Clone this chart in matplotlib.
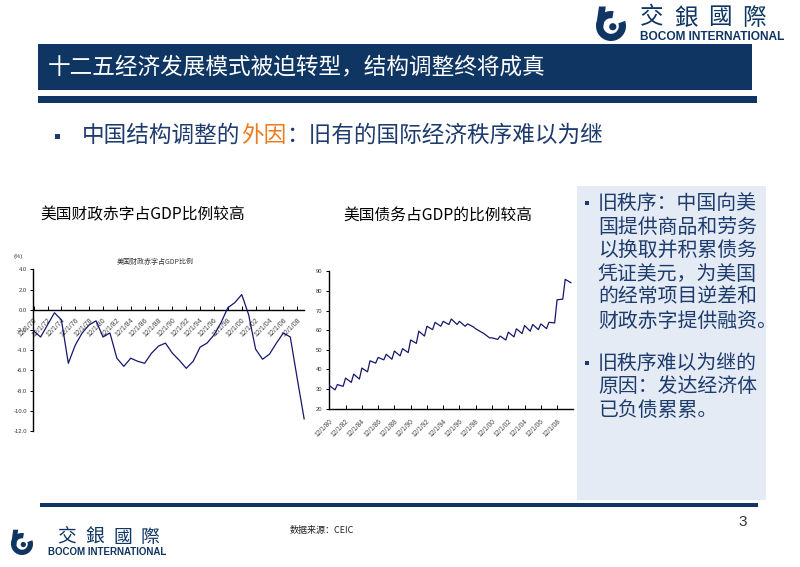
import matplotlib
matplotlib.use("Agg")
import matplotlib.pyplot as plt
from matplotlib import patches, transforms as mtransforms
import numpy as np

plt.rcParams['font.family'] = ['Noto Sans CJK SC', 'DejaVu Sans']

# ---------------- data ----------------
deficit_years = list(range(1970, 2010))
deficit_pct = [-2.1, -2.7, -1.5, -0.3, -1.0, -5.3, -3.5, -2.3, -1.5, -1.1,
               -2.7, -2.3, -4.8, -5.6, -4.8, -5.1, -5.3, -4.3, -3.6, -3.3,
               -4.3, -5.0, -5.8, -5.1, -3.7, -3.3, -2.5, -1.3, 0.2, 0.7,
               1.5, -0.5, -3.9, -4.9, -4.4, -3.3, -2.3, -2.7, -6.8, -10.8]
deficit_tick_years = list(range(1970, 2009, 2))
deficit_tick_labels = ["12/1/%02d" % (y % 100) for y in deficit_tick_years]
deficit_yticks = [4.0, 2.0, 0.0, -2.0, -4.0, -6.0, -8.0, -10.0, -12.0]

debt_years = list(range(1980, 2010))
debt_peak = [31.8, 32.3, 35.6, 37.6, 40.7, 44.4, 46.1, 47.7, 49.4, 50.6,
             55.0, 59.5, 62.0, 64.0, 64.5, 65.7, 64.5, 63.2, 60.7, 58.3,
             56.1, 57.0, 59.0, 60.7, 62.4, 62.9, 63.2, 64.0, 75.5, 85.9]
debt_trough = [29.6, 31.4, 33.4, 35.1, 38.8, 43.2, 44.9, 45.2, 46.9, 48.6,
               53.3, 57.0, 60.3, 62.0, 62.9, 62.9, 62.0, 61.7, 59.0, 56.1,
               55.3, 55.0, 56.6, 58.3, 59.5, 60.3, 60.8, 63.7, 75.8, 84.2]
debt_tick_years = list(range(1980, 2009, 2))
debt_tick_labels = ["12/1/%02d" % (y % 100) for y in debt_tick_years]
debt_yticks = [20, 30, 40, 50, 60, 70, 80, 90]

title_text = "十二五经济发展模式被迫转型，结构调整终将成真"
bullet_a = "中国结构调整的"
bullet_b = "外因"
bullet_c = "：旧有的国际经济秩序难以为继"
chart1_title = "美国财政赤字占GDP比例较高"
chart2_title = "美国债务占GDP的比例较高"
chart1_inner = "美国财政赤字占GDP比例"
box_lines_1 = ["旧秩序：中国向美", "国提供商品和劳务", "以换取并积累债务",
               "凭证美元，为美国", "的经常项目逆差和", "财政赤字提供融资。"]
box_lines_2 = ["旧秩序难以为继的", "原因：发达经济体", "已负债累累。"]
source_text = "数据来源：CEIC"
page_no = "3"

# ---------------- figure ----------------
W, H = 800, 567
fig = plt.figure(figsize=(8, 5.67), dpi=100)
px = mtransforms.Affine2D().scale(1 / W, -1 / H).translate(0, 1) + fig.transFigure

NAVY = "#0f3563"
TEXT_NAVY = "#1d3b6c"
LINE_C = "#16166e"


def T(x, y, s, **kw):
    kw.setdefault("va", "center")
    return fig.text(x / W, 1 - y / H, s, **kw)


def rect(x, y, w, h, color, z=0):
    fig.patches.append(patches.Rectangle((x, y), w, h, transform=px, color=color,
                                         zorder=z, linewidth=0))


def logo(cx, cy, r, x0, text_y, pitch, cfs, sub_y, sub_fs, sub_x):
    fig.patches.append(patches.Wedge((cx, cy), r, -20, 280, width=r * 0.48,
                                     transform=px, color=NAVY, linewidth=0))
    fig.patches.append(patches.Polygon([(cx - r, cy + 1), (cx - r * 0.52, cy + 1),
                                        (cx - r * 0.35, cy - r * 1.3),
                                        (cx - r * 0.8, cy - r * 1.3)],
                                       closed=True, transform=px, color=NAVY,
                                       linewidth=0))
    fig.patches.append(patches.Circle((cx + r * 0.12, cy + r * 0.05), r * 0.24,
                                      transform=px, color=NAVY, linewidth=0))
    for i, ch in enumerate("交銀國際"):
        T(x0 + i * pitch, text_y, ch, fontsize=cfs, color=NAVY, ha="left",
          family=["Noto Sans CJK TC", "DejaVu Sans"])
    T(sub_x, sub_y, "BOCOM INTERNATIONAL", fontsize=sub_fs, color=NAVY,
      fontweight="bold", ha="left", family=["Liberation Sans", "DejaVu Sans"])


# header logo
logo(611, 26, 15, 640, 18, 34, 17, 37, 8.6, 640)

# title bar
rect(38, 44, 714, 46, NAVY)
T(48, 67, title_text, fontsize=16.3, color="white", ha="left")
rect(38, 96, 719, 7, NAVY)

# bullet line
rect(55, 134, 5, 5, TEXT_NAVY)
T(82, 135, bullet_a, fontsize=16.3, color=TEXT_NAVY, ha="left")
T(82 + 7 * 22.7, 135, bullet_b, fontsize=16.3, color="#ee7a1e", ha="left")
T(82 + 9 * 22.7, 135, bullet_c, fontsize=16.3, color=TEXT_NAVY, ha="left")

# chart titles
T(40, 215, chart1_title, fontsize=11.3, color="black", ha="left")
T(343, 215, chart2_title, fontsize=11.3, color="black", ha="left")

# right text box
rect(577, 186, 189, 314, "#e4ebf4")
ys1 = [203, 227, 250, 274, 297, 321]
for y, s in zip(ys1, box_lines_1):
    T(598, y, s, fontsize=14.3, color=TEXT_NAVY, ha="left")
ys2 = [363, 387, 410]
for y, s in zip(ys2, box_lines_2):
    T(598, y, s, fontsize=14.3, color=TEXT_NAVY, ha="left")
rect(585, 201, 4, 4, TEXT_NAVY)
rect(585, 361, 4, 4, TEXT_NAVY)

# footer
rect(40, 503, 718, 3.5, NAVY)
logo(22, 544, 11, 57, 537, 28, 13.5, 552, 7.0, 48)
T(290, 531, source_text, fontsize=6.5, color="#222222", ha="left", style="italic")
T(738, 522, page_no, fontsize=11, color="#333333", ha="left",
  family=["Liberation Sans", "DejaVu Sans"])

# ---------------- chart 1: deficit ----------------
TICK_FONT = ["Liberation Sans", "DejaVu Sans"]
ax1 = fig.add_axes([33.3 / W, 1 - 431 / H, (304.5 - 33.3) / W, (431 - 269.3) / H])
ax1.patch.set_alpha(0)
ax1.plot(deficit_years, deficit_pct, color=LINE_C, lw=0.9, zorder=3)
ax1.set_xlim(1969.95, 2009.05)
ax1.set_ylim(-12, 4)
for s in ("top", "right"):
    ax1.spines[s].set_visible(False)
ax1.spines["bottom"].set_position(("data", 0))
ax1.spines["bottom"].set_linewidth(1.0)
ax1.spines["left"].set_linewidth(1.0)
ax1.set_yticks(deficit_yticks)
ax1.set_yticklabels(["%.1f" % v for v in deficit_yticks], family=TICK_FONT,
                    fontsize=4.2, color="#333333")
ax1.set_xticks(deficit_tick_years)
ax1.set_xticklabels(deficit_tick_labels, rotation=45, ha="right", va="top",
                    rotation_mode="anchor", family=TICK_FONT, fontsize=5,
                    color="#444444")
ax1.tick_params(axis="y", direction="out", length=2, width=0.7, pad=2.5)
ax1.tick_params(axis="x", direction="in", length=3, width=0.7, pad=5)
T(18, 257, "(%)", fontsize=4.2, color="#333333", ha="center", family=TICK_FONT)
T(155, 262, chart1_inner, fontsize=5, color="#333333", ha="center")

# ---------------- chart 2: debt ----------------
debt_x = []
debt_v = []
for y, p, t in zip(debt_years, debt_peak, debt_trough):
    debt_x += [y, y + 0.7]
    debt_v += [p, t]

ax2 = fig.add_axes([329.3 / W, 1 - 408.7 / H, (572.7 - 329.3) / W, (408.7 - 271.3) / H])
ax2.patch.set_alpha(0)
ax2.plot(debt_x, debt_v, color=LINE_C, lw=0.9, zorder=3)
ax2.set_xlim(1980, 2009.92)
ax2.set_ylim(20, 90)
for s in ("top", "right"):
    ax2.spines[s].set_visible(False)
ax2.spines["bottom"].set_linewidth(1.0)
ax2.spines["left"].set_linewidth(1.0)
ax2.set_yticks(debt_yticks)
ax2.set_yticklabels([str(v) for v in debt_yticks], family=TICK_FONT,
                    fontsize=4.2, color="#333333")
ax2.set_xticks(debt_tick_years)
ax2.set_xticklabels(debt_tick_labels, rotation=45, ha="right", va="top",
                    rotation_mode="anchor", family=TICK_FONT, fontsize=4.8,
                    color="#444444")
ax2.tick_params(axis="y", direction="out", length=2.5, width=0.7, pad=2.5)
ax2.tick_params(axis="x", direction="in", length=3, width=0.7, pad=6.5)

fig.savefig("out.png", dpi=100)
